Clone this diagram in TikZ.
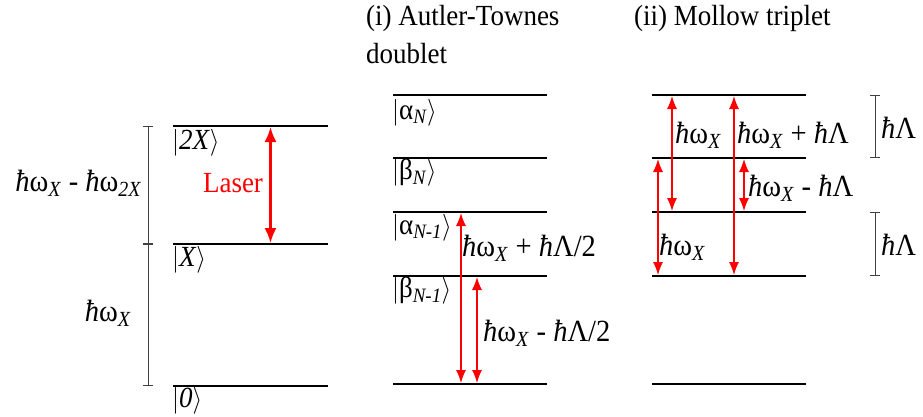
\documentclass[tikz,border=0pt]{standalone}
\usepackage{fontspec}
\setmainfont{Liberation Serif}
\usetikzlibrary{arrows.meta}
\newcommand{\sx}[1]{\scalebox{1}[1.08]{#1}}
\newcommand{\hb}{\textit{ħ}}
\newcommand{\hw}{\hb ω\textsubscript{\textit{X}}}
\newcommand{\myket}[1]{$|$#1$\rangle$}
\tikzset{
  lab/.style={font=\fontsize{27}{31}\selectfont, inner sep=0pt},
  elab/.style={font=\fontsize{28.5}{32}\selectfont, inner sep=0pt},
  level/.style={line width=2pt},
  tr/.style={red, line width=1.3pt, {Latex[length=13pt,width=10pt]}-{Latex[length=13pt,width=10pt]}},
  laser/.style={red, line width=2.2pt, {Latex[length=15pt,width=12pt]}-{Latex[length=15pt,width=12pt]}},
  brk/.style={line width=0.8pt, black!75, {Bar[width=10pt]}-{Bar[width=10pt]}},
}
\begin{document}
\begin{tikzpicture}[x=1pt,y=-1pt]
\useasboundingbox (0,0) rectangle (923,416);
% ---------- left panel ----------
\coordinate (a2l) at (173,126); \coordinate (a2r) at (328,126);
\coordinate (a1l) at (173,244); \coordinate (a1r) at (328,244);
\coordinate (a0l) at (173,386); \coordinate (a0r) at (328,386);
\draw[level] (a2l) -- (a2r);
\draw[level] (a1l) -- (a1r);
\draw[level] (a0l) -- (a0r);
\coordinate (b2) at (148,126); \coordinate (b1) at (148,244); \coordinate (b0) at (148,386);
\draw[brk] (b2) -- (b1);
\draw[brk] (b1) -- (b0);
\coordinate (lu) at (270.5,127); \coordinate (ld) at (270.5,243);
\draw[laser] (lu) -- (ld);
\node[lab, red] (laserlab) at (233,183) {\sx{Laser}};
\node[elab, anchor=east] (e21) at (142,183) {\sx{\hw{} - \hb ω\textsubscript{\textit{2X}}}};
\node[elab] (e10) at (108,313) {\sx{\hw}};
\node[lab, anchor=west] (k2x) at (172,143) {\sx{\myket{\textit{2X}}}};
\node[lab, anchor=west] (k1x) at (172,260) {\sx{\myket{\textit{X}}}};
\node[lab, anchor=west] (k0) at (172,401) {\sx{\myket{\textit{0}}}};
% ---------- middle panel ----------
\node[lab, anchor=west] (t1) at (366,18) {\sx{(i) Autler-Townes}};
\node[lab, anchor=west] (t1b) at (366,54) {\sx{doublet}};
\foreach \n/\y in {m1/95, m2/158, m3/212, m4/276, m5/384} {
  \coordinate (\n l) at (393,\y); \coordinate (\n r) at (547,\y);
  \draw[level] (\n l) -- (\n r);
}
\node[lab, anchor=west] (kan) at (392,113) {\sx{\myket{α\textsubscript{\textit{N}}}}};
\node[lab, anchor=west] (kbn) at (392,173) {\sx{\myket{β\textsubscript{\textit{N}}}}};
\node[lab, anchor=west] (kan1) at (392,228) {\sx{\myket{α\textsubscript{\textit{N-1}}}}};
\node[lab, anchor=west] (kbn1) at (392,291) {\sx{\myket{β\textsubscript{\textit{N-1}}}}};
\coordinate (p1t) at (461,213); \coordinate (p1b) at (461,383);
\coordinate (p2t) at (477,277); \coordinate (p2b) at (477,383);
\draw[tr] (p1t) -- (p1b);
\draw[tr] (p2t) -- (p2b);
\node[elab, anchor=west] (lp) at (462,248) {\sx{\hw{} + \hb Λ/2}};
\node[elab, anchor=west] (lm) at (483,333) {\sx{\hw{} - \hb Λ/2}};
% ---------- right panel ----------
\node[lab, anchor=west] (t2) at (634,18) {\sx{(ii) Mollow triplet}};
\foreach \n/\y in {r1/95, r2/158, r3/212, r4/276, r5/384} {
  \coordinate (\n l) at (652,\y); \coordinate (\n r) at (806,\y);
  \draw[level] (\n l) -- (\n r);
}
\coordinate (q1t) at (672,96);  \coordinate (q1b) at (672,211);
\coordinate (q2t) at (734,96);  \coordinate (q2b) at (734,275);
\coordinate (q3t) at (658,159); \coordinate (q3b) at (658,275);
\coordinate (q4t) at (744,159); \coordinate (q4b) at (744,211);
\draw[tr] (q1t) -- (q1b);
\draw[tr] (q2t) -- (q2b);
\draw[tr] (q3t) -- (q3b);
\draw[tr] (q4t) -- (q4b);
\node[elab, anchor=west] (r1lab) at (675,135) {\sx{\hw}};
\node[elab, anchor=west] (r2lab) at (737,135) {\sx{\hw{} + \hb Λ}};
\node[elab, anchor=west] (r3lab) at (748,188) {\sx{\hw{} - \hb Λ}};
\node[elab, anchor=west] (r4lab) at (659,247) {\sx{\hw}};
\coordinate (s1t) at (875,95);  \coordinate (s1b) at (875,158);
\coordinate (s2t) at (875,212); \coordinate (s2b) at (875,276);
\draw[brk] (s1t) -- (s1b);
\draw[brk] (s2t) -- (s2b);
\node[elab, anchor=west] (sl1) at (881,128) {\sx{\hb Λ}};
\node[elab, anchor=west] (sl2) at (881,245) {\sx{\hb Λ}};
\end{tikzpicture}
\end{document}
